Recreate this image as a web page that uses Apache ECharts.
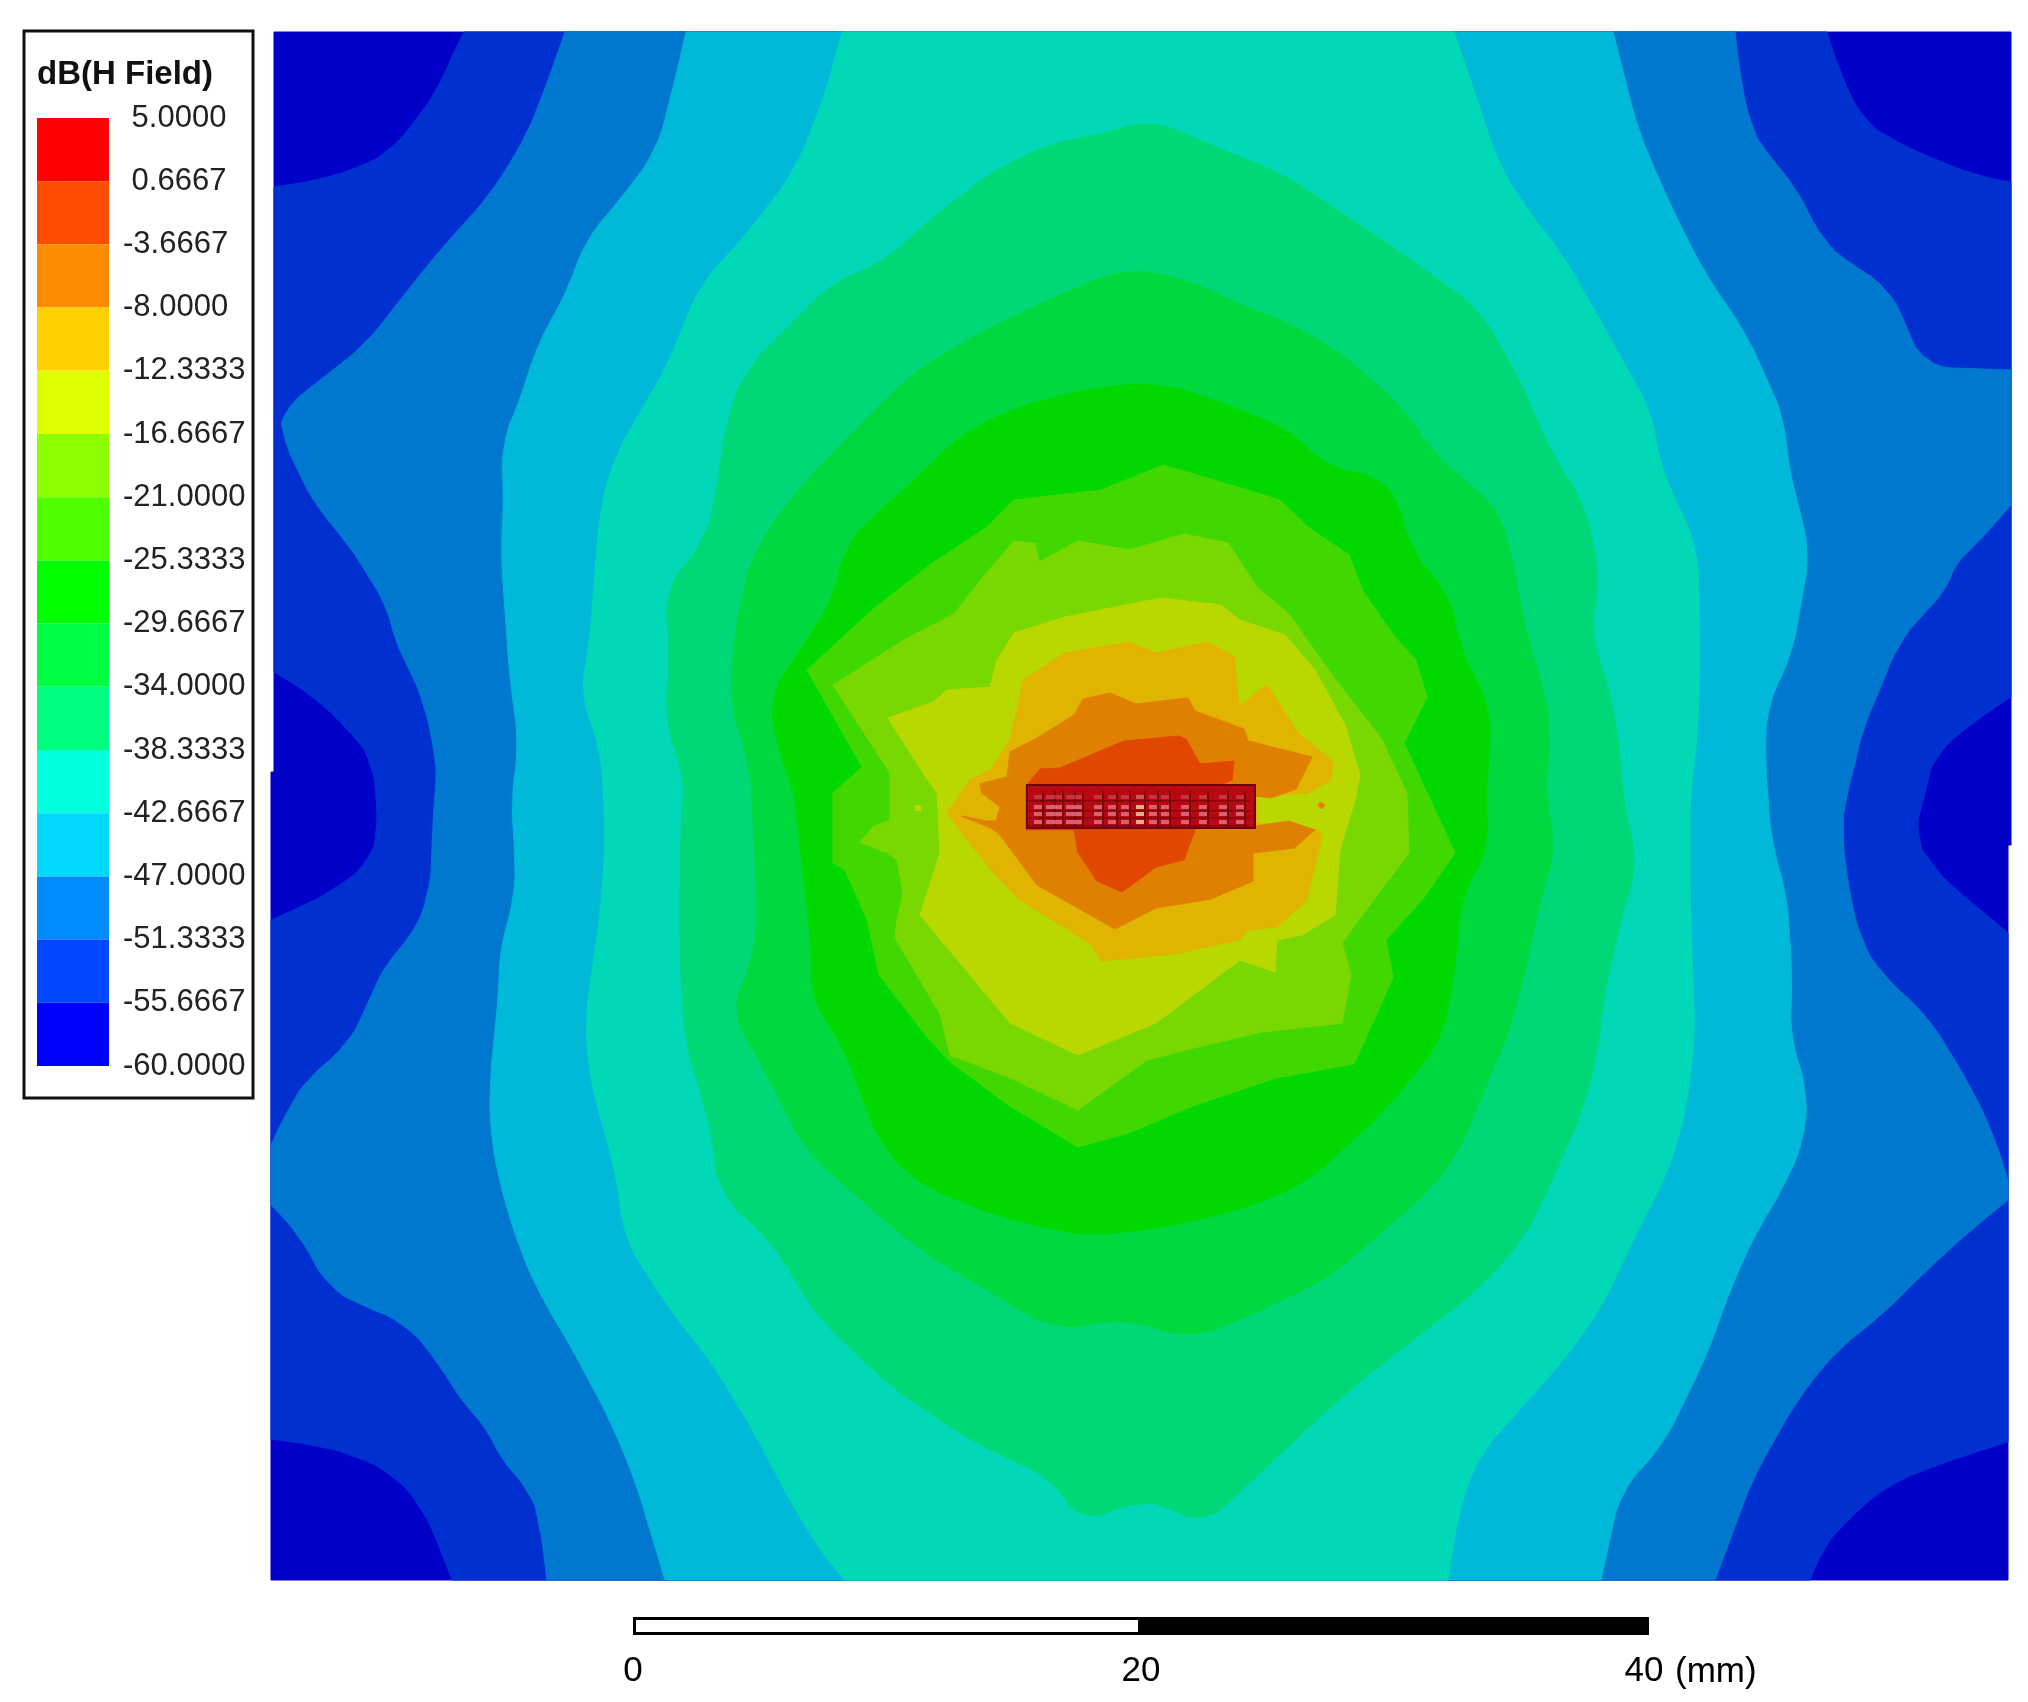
<!DOCTYPE html>
<html>

<head>
    <meta charset="utf-8">
    <title>dB(H Field)</title>
    <script src="https://cdn.jsdelivr.net/npm/echarts@6/dist/echarts.min.js"></script>
    <style>
        html, body { margin: 0; padding: 0; background: #fff; }
        #main { width: 2028px; height: 1702px; }
        /* the original is a soft, resampled screenshot */
        #main canvas { filter: blur(0.6px); }
    </style>
</head>

<body>
    <div id="main"></div>
    <script type="text/javascript">
        // legend levels, top to bottom (dB)
        const levelTicks = [5, 0.6667, -3.6667, -8, -12.3333, -16.6667, -21, -25.3333, -29.6667, -34, -38.3333, -42.6667, -47, -51.3333, -55.6667, -60];
        const legendColors = ['#ff0000', '#ff4d00', '#ff8c00', '#ffd000', '#dfff00', '#8cff00', '#50ff00', '#00ff00', '#00ff40', '#00ff80', '#00ffdc', '#00d8ff', '#008cff', '#0048ff', '#0000ff'];
        // the map itself is shaded, so its bands are darker than the legend's
        const fieldColors = ['#e04800', '#e08000', '#e0b400', '#b8d800', '#78d800', '#40d800', '#00d800', '#00d840', '#00d878', '#00d8b8', '#00b8d8', '#0078d0', '#0030d0', '#0000c8'];

        const contourMinus60 = [[4, 2], [1741, 2], [1741, 815], [1738, 815], [1738, 1550], [1, 1550], [1, 742], [4, 742]];
        const contourMinus55 = [[4, 157], [50, 150], [90, 137], [120, 122], [150, 85], [170, 55], [182, 25], [194, 2],
            [1557, 2], [1567, 35], [1592, 90], [1622, 110], [1666, 130], [1711, 147], [1741, 152],
            [1741, 667], [1706, 690], [1664, 725], [1657, 755], [1652, 775], [1644, 805], [1661, 835], [1686, 860], [1711, 880], [1738, 903],
            [1738, 1412], [1681, 1430], [1617, 1455], [1572, 1495], [1552, 1520], [1540, 1550],
            [182, 1550], [165, 1505], [150, 1475], [125, 1445], [85, 1425], [45, 1415], [1, 1409],
            [1, 890], [30, 877], [65, 860], [102, 830], [107, 800], [107, 770], [102, 730], [85, 707], [45, 667], [4, 642]];
        const contourMinus51 = [[295, 2], [1465, 2], [1470, 45], [1480, 95], [1495, 122], [1525, 155], [1552, 210], [1577, 232], [1619, 257], [1654, 337],
            [1741, 340], [1741, 475], [1706, 515], [1681, 537], [1681, 555], [1652, 585], [1627, 615], [1612, 655], [1592, 700], [1585, 735], [1575, 770], [1572, 800],
            [1577, 850], [1590, 910], [1612, 945], [1657, 985], [1697, 1050], [1722, 1100], [1738, 1150], [1738, 1170], [1701, 1200], [1657, 1240], [1612, 1285],
            [1567, 1320], [1527, 1370], [1482, 1450], [1462, 1505], [1445, 1550],
            [277, 1550], [270, 1495], [260, 1457], [230, 1432], [220, 1400], [195, 1377], [170, 1335], [135, 1292], [90, 1275], [57, 1257], [30, 1205], [1, 1175], [1, 1115],
            [20, 1075], [40, 1045], [77, 1017], [95, 980], [117, 930], [140, 910], [160, 865], [162, 820], [164, 770], [167, 750], [165, 725], [155, 675], [140, 640],
            [122, 605], [120, 582], [95, 540], [75, 510], [45, 475], [30, 445], [11, 405], [12, 380], [50, 350], [95, 315], [130, 270], [170, 220], [220, 165], [257, 105], [280, 45]];
        const contourMinus47 = [[416, 2], [1343, 2], [1368, 100], [1398, 170], [1433, 240], [1477, 305], [1515, 390], [1517, 430], [1540, 522], [1522, 625], [1497, 675], [1495, 725],
            [1498, 770], [1502, 815], [1517, 865], [1522, 945], [1520, 1010], [1537, 1055], [1535, 1110], [1507, 1170], [1487, 1200], [1460, 1260], [1437, 1325], [1393, 1415], [1350, 1462], [1331, 1550],
            [395, 1550], [365, 1450], [340, 1390], [300, 1315], [270, 1265], [250, 1220], [230, 1155], [220, 1100], [220, 1050], [229, 960], [230, 915], [245, 870], [245, 820], [241, 770],
            [249, 715], [240, 650], [231, 525], [234, 465], [231, 415], [252, 365], [265, 320], [300, 255], [315, 210], [350, 170], [387, 120], [405, 50]];
        const contourMinus42 = [[572, 2], [1184, 2], [1204, 60], [1229, 135], [1254, 175], [1293, 225], [1333, 295], [1383, 385], [1388, 430], [1428, 520], [1430, 625], [1428, 700],
            [1420, 770], [1420, 860], [1425, 1010], [1415, 1085], [1397, 1145], [1368, 1200], [1333, 1275], [1298, 1325], [1263, 1365], [1209, 1425], [1189, 1480], [1178, 1550],
            [575, 1550], [557, 1530], [525, 1480], [480, 1395], [440, 1330], [400, 1280], [355, 1210], [345, 1140], [320, 1050], [315, 990], [330, 885], [335, 820], [334, 770],
            [330, 715], [310, 665], [320, 610], [325, 540], [330, 480], [345, 425], [395, 340], [430, 255], [480, 200], [525, 140], [555, 65]];
        const contourMinus38 = [[881, 89], [925, 108], [970, 127], [1015, 145], [1075, 185], [1135, 225], [1210, 280], [1250, 350], [1280, 420], [1315, 475], [1330, 550], [1320, 600], [1342, 670], [1350, 720],
            [1353, 770], [1368, 835], [1353, 880], [1333, 970], [1328, 1020], [1313, 1080], [1278, 1160], [1253, 1210], [1208, 1260], [1143, 1310], [1083, 1357], [1020, 1415], [970, 1462], [933, 1496],
            [900, 1477], [868, 1470], [810, 1494], [784, 1450], [700, 1410], [625, 1360], [550, 1290], [500, 1210], [450, 1165], [440, 1095], [415, 1010], [410, 930], [410, 845], [412, 770],
            [415, 750], [395, 690], [400, 625], [395, 560], [435, 510], [445, 470], [457, 390], [475, 340], [520, 295], [565, 250], [610, 235], [665, 185], [725, 140], [784, 112], [830, 105]];
        const contourMinus34 = [[855, 238], [920, 250], [970, 275], [1025, 295], [1080, 330], [1135, 380], [1165, 425], [1230, 480], [1247, 550], [1254, 595], [1275, 665], [1281, 700],
            [1275, 770], [1287, 815], [1270, 870], [1260, 920], [1240, 1000], [1210, 1070], [1190, 1120], [1165, 1155], [1115, 1200], [1055, 1250], [970, 1290], [920, 1309], [855, 1289], [784, 1300],
            [725, 1265], [650, 1220], [585, 1165], [535, 1120], [500, 1050], [460, 980], [485, 925], [487, 870], [482, 770], [480, 740], [460, 670], [465, 600], [480, 530], [515, 475], [560, 425], [600, 385], [640, 345], [705, 305], [784, 267]];
        const contourMinus29 = [[894, 354], [930, 365], [970, 380], [1020, 400], [1060, 440], [1110, 445], [1130, 475], [1140, 520], [1180, 565], [1190, 620], [1220, 675], [1220, 725],
            [1215, 770], [1220, 815], [1190, 870], [1187, 925], [1172, 1010], [1114, 1082], [1036, 1153], [970, 1180], [880, 1200], [816, 1205], [784, 1200], [725, 1185], [650, 1155], [610, 1115],
            [575, 1020], [540, 965], [542, 920], [532, 835], [525, 770], [520, 750], [505, 710], [500, 665], [520, 635], [540, 605], [565, 565], [575, 515], [605, 485], [650, 445], [690, 405], [740, 380], [784, 367], [840, 355]];
        const contourMinus25 = [[893, 435], [941, 449], [1010, 470], [1038, 497], [1079, 525], [1093, 561], [1125, 607], [1146, 630], [1157, 667], [1134, 713], [1185, 823], [1153, 869], [1116, 910], [1123, 947], [1107, 984], [1084, 1034],
            [1006, 1048], [923, 1076], [859, 1103], [808, 1117], [740, 1076], [680, 1032], [657, 1007], [609, 945], [597, 890], [575, 840], [563, 833], [563, 763], [592, 737], [537, 640], [602, 580], [661, 534], [717, 497], [744, 470], [831, 460]];
        const contourMinus21 = [[563, 655], [639, 607], [684, 584], [712, 548], [744, 511], [765, 513], [769, 532], [808, 511], [859, 520], [914, 504], [958, 513], [987, 557], [1019, 584], [1065, 649], [1111, 708], [1137, 763], [1139, 823],
            [1111, 860], [1072, 913], [1081, 945], [1072, 993], [992, 1002], [932, 1016], [877, 1030], [808, 1080], [740, 1048], [680, 1025], [670, 984], [625, 908], [627, 890], [633, 863], [627, 830], [617, 823], [590, 812], [603, 797], [620, 790], [620, 743]];
        const contourMinus16 = [[618, 688], [663, 672], [677, 660], [720, 657], [727, 630], [744, 603], [795, 587], [891, 568], [951, 575], [970, 590], [1015, 605], [1045, 640], [1075, 695], [1090, 745], [1085, 770], [1070, 820], [1065, 885],
            [1032, 905], [1007, 910], [1005, 942], [970, 930], [886, 993], [808, 1025], [740, 993], [650, 885], [670, 823], [667, 763], [653, 743]];
        const contourMinus12 = [[753, 650], [795, 623], [859, 612], [886, 623], [937, 612], [964, 626], [969, 676], [997, 655], [1029, 704], [1063, 731], [1061, 750], [1038, 763], [987, 766], [987, 793], [1047, 800], [1052, 805], [1047, 825], [1037, 870],
            [1007, 897], [978, 900], [969, 910], [905, 924], [831, 931], [822, 915], [749, 869], [727, 847], [697, 810], [677, 783], [700, 750], [720, 740], [740, 710], [747, 680]];
        const contourMinus8 = [[813, 669], [840, 663], [866, 674], [918, 668], [925, 681], [974, 699], [978, 711], [1042, 727], [1026, 759], [1001, 768], [985, 766], [985, 796], [1019, 791], [1045, 800], [1024, 818], [983, 823], [983, 851],
            [941, 869], [886, 878], [845, 899], [767, 855], [730, 805], [721, 798], [691, 786], [717, 791], [726, 791], [730, 777], [712, 763], [710, 754], [737, 747], [740, 722], [767, 708], [804, 685]];
        const contourMinus3 = [[854, 711], [909, 706], [916, 709], [930, 734], [964, 731], [962, 750], [946, 757], [925, 800], [914, 830], [886, 837], [852, 862], [827, 851], [808, 823], [804, 800], [756, 800], [756, 756], [770, 739], [790, 738]];
        // tiny islands next to the device
        const islandMinus8 = [[1050, 772], [1055, 775], [1052, 779], [1048, 776]];
        const islandMinus8b = [[916, 747], [925, 750], [932, 754], [925, 756]];
        const islandMinus16 = [[645, 775], [651, 776], [651, 781], [645, 780]];

        // device outline and its mesh
        const deviceBox = [757, 755, 985, 798];
        const meshColumns = [768, 780, 788, 800, 808, 828, 842, 855, 870, 883, 895, 915, 933, 953, 970];
        const meshRows = [767, 777, 784, 792];

        // scale bar, mm
        const scaleSegments = [20, 20];

        // [points, index into fieldColors, soft outline]
        const contours = [
            [contourMinus60, 13, false], [contourMinus55, 12, true], [contourMinus51, 11, true], [contourMinus47, 10, true], [contourMinus42, 9, true],
            [contourMinus38, 8, true], [contourMinus34, 7, true], [contourMinus29, 6, true], [contourMinus25, 5, false], [contourMinus21, 4, false],
            [contourMinus16, 3, false], [islandMinus16, 3, false], [contourMinus12, 2, false], [contourMinus8, 1, false], [islandMinus8, 1, false], [islandMinus8b, 1, false], [contourMinus3, 0, false]
        ];

        // cut the corners of the far-field contours, but leave those on the map border alone
        function softenCorners(points, r) {
            const out = [];
            const n = points.length;
            for (let i = 0; i < n; i++) {
                const p = points[i];
                if (p[0] <= 4 || p[0] >= 1738 || p[1] <= 2 || p[1] >= 1550) {
                    out.push(p);
                    continue;
                }
                [points[(i + n - 1) % n], points[(i + 1) % n]].forEach(function (q) {
                    const dx = q[0] - p[0];
                    const dy = q[1] - p[1];
                    const t = Math.min(r / Math.hypot(dx, dy), 0.4);
                    out.push([p[0] + dx * t, p[1] + dy * t]);
                });
            }
            return out;
        }

        const font = 'Liberation Sans';
        const chart = echarts.init(document.getElementById('main'), null, { renderer: 'canvas' });

        chart.setOption({
            backgroundColor: '#fff',
            animation: false,
            title: {
                text: 'dB(H Field)',
                left: 37,
                top: 58,
                padding: 0,
                textStyle: { fontFamily: font, fontSize: 33, fontWeight: 'bold', color: '#111' }
            },
            graphic: [{
                type: 'rect',
                z: -1,
                shape: { x: 24, y: 31, width: 229, height: 1067 },
                style: { fill: '#fff', stroke: '#111', lineWidth: 3 }
            }],
            grid: [
                { left: 270, top: 32, width: 1741, height: 1548 }, // map
                { left: 37, top: 118, width: 72, height: 948 }, // legend bar
                { left: 633, top: 1617, width: 1016, height: 18 } // scale bar
            ],
            xAxis: [
                { gridIndex: 0, type: 'value', min: 0, max: 1741, show: false },
                { gridIndex: 1, type: 'value', min: 0, max: 1, show: false },
                {
                    gridIndex: 2,
                    type: 'value',
                    min: 0,
                    max: 40,
                    interval: 20,
                    name: '(mm)',
                    nameLocation: 'end',
                    nameGap: 26,
                    nameTextStyle: { fontFamily: font, fontSize: 35, color: '#000', verticalAlign: 'top', padding: [20, 0, 0, 0] },
                    axisLine: { show: false },
                    axisTick: { show: false },
                    splitLine: { show: false },
                    axisLabel: {
                        fontFamily: font,
                        fontSize: 35,
                        color: '#000',
                        margin: 19,
                        formatter: function (v) {
                            return v === 40 ? '{end|40}' : String(v);
                        },
                        rich: { end: { fontFamily: font, fontSize: 35, color: '#000', padding: [0, 10, 0, 0] } }
                    }
                }
            ],
            yAxis: [
                { gridIndex: 0, type: 'value', min: 2, max: 1550, inverse: true, show: false },
                {
                    gridIndex: 1,
                    type: 'value',
                    min: -60,
                    max: 5,
                    position: 'right',
                    axisLine: { show: false },
                    axisTick: { show: false },
                    splitLine: { show: false },
                    axisLabel: {
                        customValues: levelTicks,
                        fontFamily: font,
                        fontSize: 31,
                        color: '#222',
                        margin: 14,
                        align: 'left',
                        formatter: function (v) {
                            // positive numbers leave room for the minus sign
                            return (v >= 0 ? ' ' : '') + v.toFixed(4);
                        }
                    }
                },
                { gridIndex: 2, type: 'category', data: ['scale'], show: false }
            ],
            series: [
                {
                    type: 'custom',
                    name: 'field',
                    xAxisIndex: 0,
                    yAxisIndex: 0,
                    silent: true,
                    data: contours.map(function (c, i) { return [i]; }),
                    encode: { x: -1, y: -1 },
                    renderItem: function (params, api) {
                        const c = contours[api.value(0)];
                        const color = fieldColors[c[1]];
                        const points = c[2] ? softenCorners(softenCorners(c[0], 16), 6) : c[0];
                        return {
                            type: 'polygon',
                            shape: { points: points.map(function (p) { return api.coord(p); }) },
                            style: { fill: color, stroke: color, lineWidth: 1 }
                        };
                    }
                },
                {
                    type: 'custom',
                    name: 'device',
                    xAxisIndex: 0,
                    yAxisIndex: 0,
                    silent: true,
                    data: [deviceBox],
                    encode: { x: -1, y: -1 },
                    z: 3,
                    renderItem: function (params, api) {
                        const a = api.coord([api.value(0), api.value(1)]);
                        const b = api.coord([api.value(2), api.value(3)]);
                        return {
                            type: 'rect',
                            shape: { x: a[0], y: a[1], width: b[0] - a[0], height: b[1] - a[1] },
                            style: { fill: '#b80812', stroke: '#6e0208', lineWidth: 2 }
                        };
                    }
                },
                {
                    type: 'custom',
                    name: 'mesh',
                    xAxisIndex: 0,
                    yAxisIndex: 0,
                    silent: true,
                    z: 4,
                    data: meshColumns.flatMap(function (x) { return meshRows.map(function (y) { return [x, y]; }); }),
                    encode: { x: -1, y: -1 },
                    renderItem: function (params, api) {
                        const x = api.value(0);
                        const y = api.value(1);
                        const p = api.coord([x, y]);
                        return {
                            type: 'group',
                            children: [{
                                type: 'rect',
                                shape: { x: p[0] - 4, y: p[1] - 2, width: 8, height: 4 },
                                style: { fill: x === 870 ? '#f2d6a8' : '#e0788a', opacity: y === 767 ? 0.4 : 0.8 }
                            }, {
                                type: 'rect',
                                shape: { x: p[0] + 4, y: p[1] - 6, width: 2, height: 12 },
                                style: { fill: '#6e0208', opacity: 0.75 }
                            }, {
                                type: 'rect',
                                shape: { x: p[0] - 10, y: p[1] + 3, width: 20, height: 1.5 },
                                style: { fill: '#6e0208', opacity: 0.6 }
                            }]
                        };
                    }
                },
                {
                    type: 'custom',
                    name: 'legend',
                    xAxisIndex: 1,
                    yAxisIndex: 1,
                    silent: true,
                    data: legendColors.map(function (c, i) { return [levelTicks[i], levelTicks[i + 1], i]; }),
                    encode: { x: -1, y: -1 },
                    renderItem: function (params, api) {
                        const a = api.coord([0, api.value(0)]);
                        const b = api.coord([1, api.value(1)]);
                        return {
                            type: 'rect',
                            shape: { x: a[0], y: a[1], width: b[0] - a[0], height: b[1] - a[1] },
                            style: { fill: legendColors[api.value(2)] }
                        };
                    }
                },
                {
                    type: 'bar',
                    name: 'scale white',
                    xAxisIndex: 2,
                    yAxisIndex: 2,
                    stack: 'scale',
                    silent: true,
                    barWidth: '100%',
                    data: [scaleSegments[0]],
                    itemStyle: { color: '#fff', borderColor: '#000', borderWidth: 3 }
                },
                {
                    type: 'bar',
                    name: 'scale black',
                    xAxisIndex: 2,
                    yAxisIndex: 2,
                    stack: 'scale',
                    silent: true,
                    barWidth: '100%',
                    data: [scaleSegments[1]],
                    itemStyle: { color: '#000', borderColor: '#000', borderWidth: 3 }
                }
            ]
        });
    </script>
</body>

</html>
